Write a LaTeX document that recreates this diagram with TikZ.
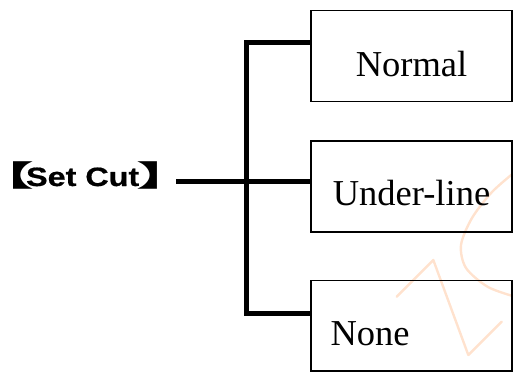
\documentclass[tikz,border=0pt]{standalone}
\usepackage{fontspec}
\setmainfont{Liberation Serif}
\newfontfamily\labelsans{Liberation Sans}[BoldFeatures={FakeBold=0.6}]
\newfontfamily\cjkb{Noto Sans CJK SC Bold}
\newcommand\lbrk{\scalebox{2.1}[1]{\cjkb\fontsize{29}{30}\selectfont 【}}
\newcommand\rbrk{\scalebox{2.1}[1]{\cjkb\fontsize{29}{30}\selectfont 】}}
\begin{document}
\begin{tikzpicture}[x=1pt,y=-1pt,
  optbox/.style={draw=black, line width=1.3pt, inner sep=0pt, minimum width=201pt,
    font=\fontsize{36.5}{40}\selectfont},
  bus/.style={line width=4.7pt, line join=miter},
  wmark/.style={draw={rgb,255:red,255;green,226;blue,206}, line width=2.4pt, line cap=round, line join=round}]
\useasboundingbox (0,0) rectangle (513,372);
% watermark
\draw[wmark] (396.7,296.7) -- (433.3,260) -- (468.3,355) -- (501.7,321.7);
\draw[wmark] plot[smooth] coordinates {(516,171) (492,192) (472,218) (461,245) (466,268) (488,287) (516,297)};
% option boxes
\node[optbox, minimum height=91.2pt, text height=40.2pt, text depth=0pt] (n) at (411.5,55.9) {Normal};
\node[optbox, minimum height=91pt, text height=37pt, text depth=0pt] (u) at (411.5,186.5) {Under-line};
\node[optbox, minimum height=90.5pt, text height=38.5pt, text depth=0pt, inner xsep=19.5pt,
  text width=162pt, align=left] (o) at (411.5,325.75) {None};
% label
\node[anchor=base west, inner sep=0pt, font=\labelsans\bfseries\fontsize{26.5}{30}\selectfont] (sc) at (-27,186)
  {\lbrk\kern-8pt\scalebox{1.22}[1]{Set Cut}\kern-3pt\rbrk};
% connectors
\coordinate (start) at (176,181.7);
\coordinate (top) at (246.5,42.5);
\coordinate (bot) at (246.5,313.5);
\draw[bus] (top -| n.west) -- (top) -- (bot) -- (bot -| o.west);
\draw[bus] (start) -- (start -| u.west);
\end{tikzpicture}
\end{document}
